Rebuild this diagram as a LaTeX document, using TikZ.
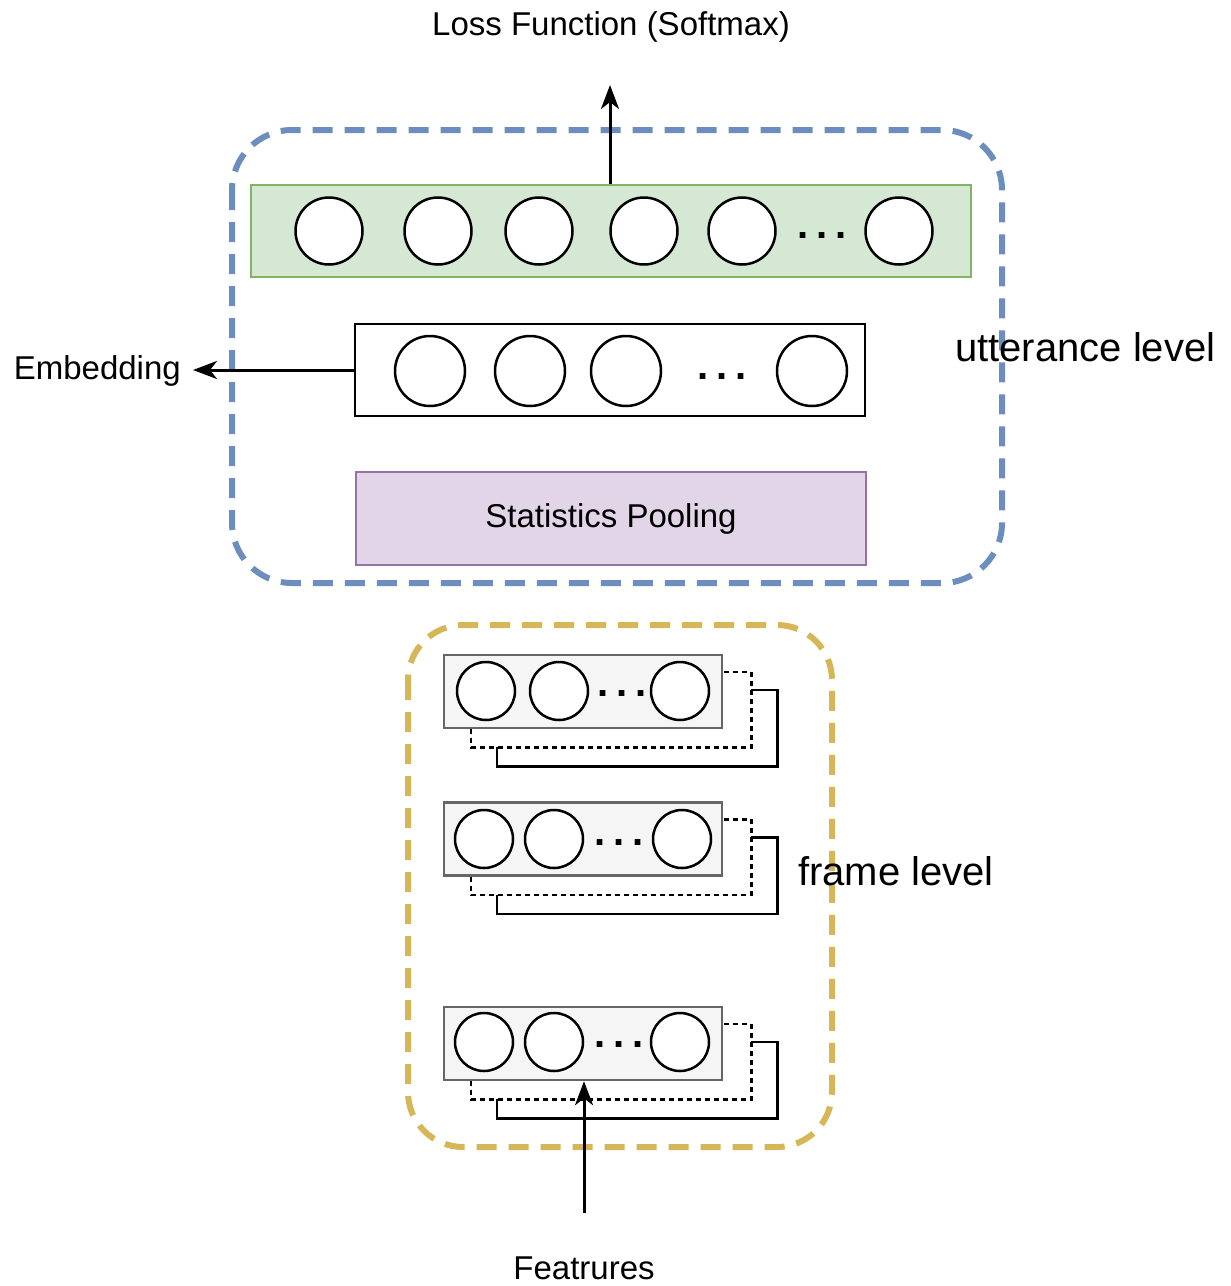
\documentclass[tikz,border=0pt]{standalone}
\usepackage{fontspec}
\setmainfont{Liberation Sans}
\usetikzlibrary{arrows.meta,calc}
\definecolor{bluedash}{HTML}{6C8EBF}
\definecolor{yellowdash}{HTML}{D6B656}
\definecolor{greenfill}{HTML}{D5E8D4}
\definecolor{greendraw}{HTML}{82B366}
\definecolor{purplefill}{HTML}{E1D5E7}
\definecolor{purpledraw}{HTML}{9673A6}
\definecolor{grayfill}{HTML}{F5F5F5}
\definecolor{graydraw}{HTML}{666666}
\newcommand\spreaddots{.\kern 8pt.\kern 8pt.}
\begin{document}
\begin{tikzpicture}[x=1pt,y=-1pt,
  txt/.style={font=\fontsize{33pt}{40pt}\selectfont, inner sep=0pt},
  bigtxt/.style={font=\fontsize{40pt}{48pt}\selectfont, inner sep=0pt},
  dotstxt/.style={font=\fontsize{40pt}{40pt}\selectfont\bfseries, inner sep=0pt},
  layerbox/.style={draw, line width=2.8pt, inner sep=0pt, minimum height=92pt},
  framebox/.style={draw=graydraw, fill=grayfill, line width=2.5pt, inner sep=0pt, minimum width=278pt, minimum height=73pt},
  neuron/.style={circle, draw, line width=2.5pt, fill=white, inner sep=0pt},
  bigneuron/.style={neuron, minimum size=67pt},
  midneuron/.style={neuron, minimum size=70pt},
  smallneuron/.style={neuron, minimum size=58pt},
  arrowline/.style={line width=3pt, -{Stealth[length=24pt,width=18pt,inset=7pt]}},
  stackdash/.style={line width=2.5pt, dash pattern=on 5pt off 4pt},
  stacksolid/.style={line width=2.5pt},
  group/.style={line width=6pt, dash pattern=on 20pt off 12pt, rounded corners=60pt}
]
\useasboundingbox (0,0) rectangle (1231,1286);

% group frames
\draw[group, bluedash] (232,130) rectangle (1002,583);
\draw[group, yellowdash, rounded corners=55pt] (408,625) rectangle (832,1147);

% output layer
\node[layerbox, draw=greendraw, fill=greenfill, line width=2.5pt, minimum width=720pt] (out) at (611,231) {};
\foreach \x [count=\i] in {329,438,539,644,742,899}
  \node[bigneuron] (o\i) at (\x,231) {};
\node[dotstxt] (odots) at (822,236) {\spreaddots};

% embedding layer
\node[layerbox, fill=white, minimum width=510pt] (emb) at (610,370) {};
\foreach \x [count=\i] in {430,530,626,812}
  \node[midneuron] (e\i) at (\x,371) {};
\node[dotstxt] (edots) at (722,377) {\spreaddots};

% statistics pooling
\node[layerbox, draw=purpledraw, fill=purplefill, line width=2.5pt, minimum width=510pt, minimum height=93pt, txt] (pool) at (611,518.5) {Statistics Pooling};

% frame level boxes
\foreach \n/\y in {1/691.5, 2/839, 3/1043.5} {
  \coordinate (c\n) at (583,\y);
}
\foreach \n in {1,2,3} {
  \path (c\n) node[framebox] (f\n) {};
  \draw[stackdash] ($(f\n.south west)+(28,0)$) -- ($(f\n.south west)+(28,18)$)
     -- ($(f\n.south east)+(28,18)$) -- ($(f\n.north east)+(28,18)$) -- ($(f\n.north east)+(0,18)$);
  \draw[stacksolid] ($(f\n.south west)+(54,18)$) -- ($(f\n.south west)+(54,37)$)
     -- ($(f\n.south east)+(54,37)$) -- ($(f\n.north east)+(54,36)$) -- ($(f\n.north east)+(28,36)$);
}
\foreach \x [count=\i] in {486,559,680} \node[smallneuron] (a\i) at (\x,691) {};
\node[dotstxt] (adots) at (622,694) {\spreaddots};
\foreach \x [count=\i] in {484,554,682} \node[smallneuron] (b\i) at (\x,839) {};
\node[dotstxt] (bdots) at (619,843) {\spreaddots};
\foreach \x [count=\i] in {484,554,680} \node[smallneuron] (d\i) at (\x,1042) {};
\node[dotstxt] (ddots) at (619,1045) {\spreaddots};

% labels
\node[txt] (loss) at (611,27) {Loss Function (Softmax)};
\node[txt, anchor=east] (embtxt) at (181,371) {Embedding};
\node[bigtxt, anchor=west] (utt) at (955,347) {utterance level};
\node[bigtxt, anchor=west] (frm) at (798,871) {frame level};
\node[txt] (feat) at (584,1268) {Featrures};
\coordinate (losstip) at (610,85);
\coordinate (embtip) at (193,370);
\coordinate (featstart) at (584,1213);

% connectors
\draw[arrowline] (out.north -| losstip) -- (losstip);
\draw[arrowline] (emb.west) -- (embtip);
\draw[arrowline] (featstart) -- (featstart |- f3.south);
\end{tikzpicture}
\end{document}
